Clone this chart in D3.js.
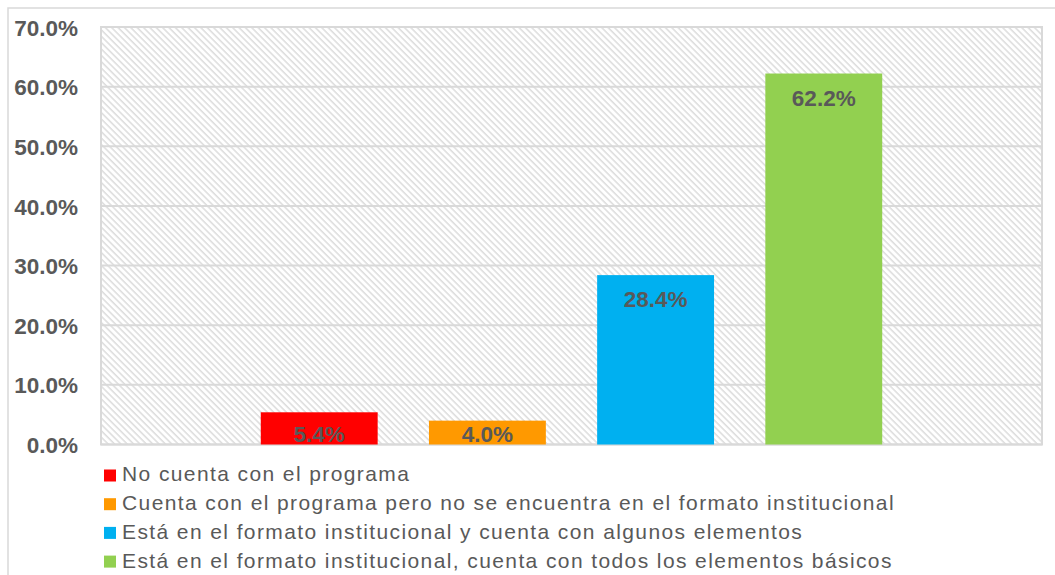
<!DOCTYPE html>
<html>
<head>
<meta charset="utf-8">
<script src="https://cdn.jsdelivr.net/npm/d3@7"></script>
<style>
  html, body { margin: 0; padding: 0; background: #fff; }
  svg { display: block; }
</style>
</head>
<body>
<svg id="chart" width="1055" height="575"></svg>
<script>
// ---- data ----
const series = [
  "No cuenta con el programa",
  "Cuenta con el programa pero no se encuentra en el formato institucional",
  "Está en el formato institucional y cuenta con algunos elementos",
  "Está en el formato institucional, cuenta con todos los elementos básicos"
];
const values = [5.4, 4.0, 28.4, 62.2];
const colors = ["#ff0000", "#ff9900", "#00b0f0", "#92d050"];
const yTicks = [0, 10, 20, 30, 40, 50, 60, 70];

// ---- layout ----
const W = 1055, H = 575;
const plot = { left: 101, top: 27, right: 1042, bottom: 444.5 };
const svg = d3.select("#chart");

// outer chart border
svg.append("rect")
  .attr("x", 8).attr("y", 8)
  .attr("width", W + 20).attr("height", H + 20)
  .attr("fill", "none").attr("stroke", "#d9d9d9").attr("stroke-width", 1.5);

// hatch pattern
const defs = svg.append("defs");
const pat = defs.append("pattern")
  .attr("id", "hatch").attr("patternUnits", "userSpaceOnUse")
  .attr("width", 4.5).attr("height", 10)
  .attr("patternTransform", "rotate(-45)");
pat.append("rect").attr("width", 4.5).attr("height", 10).attr("fill", "#ffffff");
pat.append("line").attr("x1", 1).attr("x2", 1).attr("y1", 0).attr("y2", 10)
  .attr("stroke", "#d6d6d6").attr("stroke-width", 1.3);

const y = d3.scaleLinear().domain([0, 70]).range([plot.bottom, plot.top]);
const x = d3.scaleBand().domain(series)
  .range([plot.left, plot.right])
  .paddingInner(0.305).paddingOuter(0.95);

// plot background
svg.append("rect")
  .attr("x", plot.left).attr("y", plot.top)
  .attr("width", plot.right - plot.left).attr("height", plot.bottom - plot.top)
  .attr("fill", "url(#hatch)");

// gridlines
svg.append("g").selectAll("line").data(yTicks).join("line")
  .attr("x1", plot.left).attr("x2", plot.right)
  .attr("y1", d => y(d)).attr("y2", d => y(d))
  .attr("stroke", "#d9d9d9").attr("stroke-width", 2);

// plot border
svg.append("rect")
  .attr("x", plot.left).attr("y", plot.top)
  .attr("width", plot.right - plot.left).attr("height", plot.bottom - plot.top)
  .attr("fill", "none").attr("stroke", "#d9d9d9").attr("stroke-width", 2);

// y axis
const yAxis = d3.axisLeft(y).tickValues(yTicks)
  .tickFormat(d => d.toFixed(1) + "%").tickSize(0).tickPadding(23);
const gy = svg.append("g").attr("transform", `translate(${plot.left},0)`).call(yAxis);
gy.select(".domain").remove();
gy.selectAll("text")
  .attr("fill", "#595959")
  .style("font-family", "'Liberation Sans', Arial, sans-serif")
  .style("font-size", "22.5px").style("font-weight", "bold")
  .attr("dy", "0.36em");

// bars
svg.append("g").selectAll("rect").data(values).join("rect")
  .attr("x", (d, i) => x(series[i]))
  .attr("width", x.bandwidth())
  .attr("y", d => y(d))
  .attr("height", d => y(0) - y(d))
  .attr("fill", (d, i) => colors[i]);

// data labels
svg.append("g").selectAll("text").data(values).join("text")
  .attr("x", (d, i) => x(series[i]) + x.bandwidth() / 2)
  .attr("y", d => Math.min(y(d) + 24, y(0) - 11))
  .attr("dy", "0.36em")
  .attr("text-anchor", "middle")
  .attr("fill", "#595959")
  .style("font-family", "'Liberation Sans', Arial, sans-serif")
  .style("font-size", "22.5px").style("font-weight", "bold")
  .text(d => d.toFixed(1) + "%");

// legend
const leg = svg.append("g");
const rowY0 = 474.5, rowStep = 28.7;
const items = leg.selectAll("g").data(series).join("g")
  .attr("transform", (d, i) => `translate(104,${rowY0 + i * rowStep})`);
items.append("rect")
  .attr("x", 0).attr("y", -5).attr("width", 12).attr("height", 12)
  .attr("fill", (d, i) => colors[i]);
items.append("text")
  .attr("x", 18).attr("y", 0).attr("dy", "0.33em")
  .attr("fill", "#595959")
  .style("font-family", "'Liberation Sans', Arial, sans-serif")
  .style("font-size", "21px").style("letter-spacing", "1.4px")
  .text(d => d);
</script>
</body>
</html>
